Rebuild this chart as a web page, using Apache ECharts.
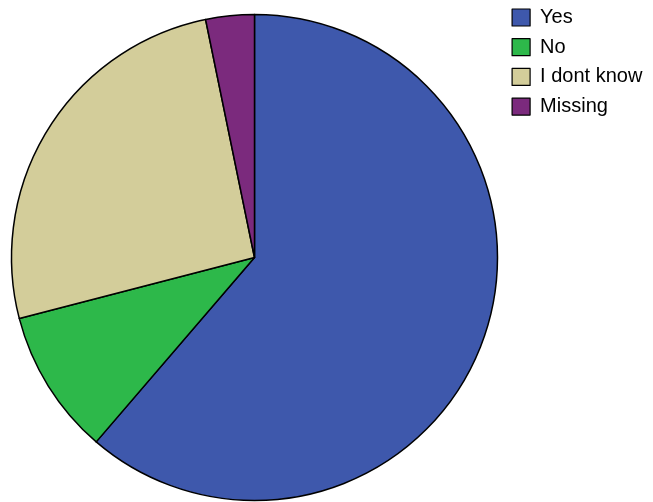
<!DOCTYPE html>
<html>
<head>
<meta charset="utf-8">
<script src="https://cdn.jsdelivr.net/npm/echarts@6/dist/echarts.min.js"></script>
<style>
  html, body { margin: 0; padding: 0; background: #fff; }
  #chart { width: 653px; height: 502px; }
</style>
</head>
<body>
<div id="chart"></div>
<script>
// Answer categories and their response counts
const categories = ['Yes', 'No', 'I dont know', 'Missing'];
const counts = [19, 3, 8, 1];
const colors = ['#3e58ac', '#2db84a', '#d3cd9a', '#7b2a7d'];

const chart = echarts.init(document.getElementById('chart'));
chart.setOption({
  animation: false,
  backgroundColor: '#ffffff',
  legend: {
    orient: 'vertical',
    left: 511.5,
    top: 7.5,
    padding: 0,
    icon: 'rect',
    itemWidth: 18,
    itemHeight: 17,
    itemGap: 9.7,
    selectedMode: false,
    itemStyle: { borderColor: '#000', borderWidth: 1.2 },
    textStyle: {
      fontFamily: 'Liberation Sans, Arial, sans-serif',
      fontSize: 20,
      lineHeight: 17,
      color: '#000',
      padding: [0, 0, 0, 5]
    },
    data: categories
  },
  series: [{
    type: 'pie',
    center: [254.5, 257.5],
    radius: 243,
    startAngle: 90,
    clockwise: true,
    label: { show: false },
    labelLine: { show: false },
    emphasis: { disabled: true },
    itemStyle: { borderColor: '#000', borderWidth: 1.5 },
    data: categories.map((name, i) => ({
      name,
      value: counts[i],
      itemStyle: { color: colors[i] }
    }))
  }]
});
</script>
</body>
</html>
